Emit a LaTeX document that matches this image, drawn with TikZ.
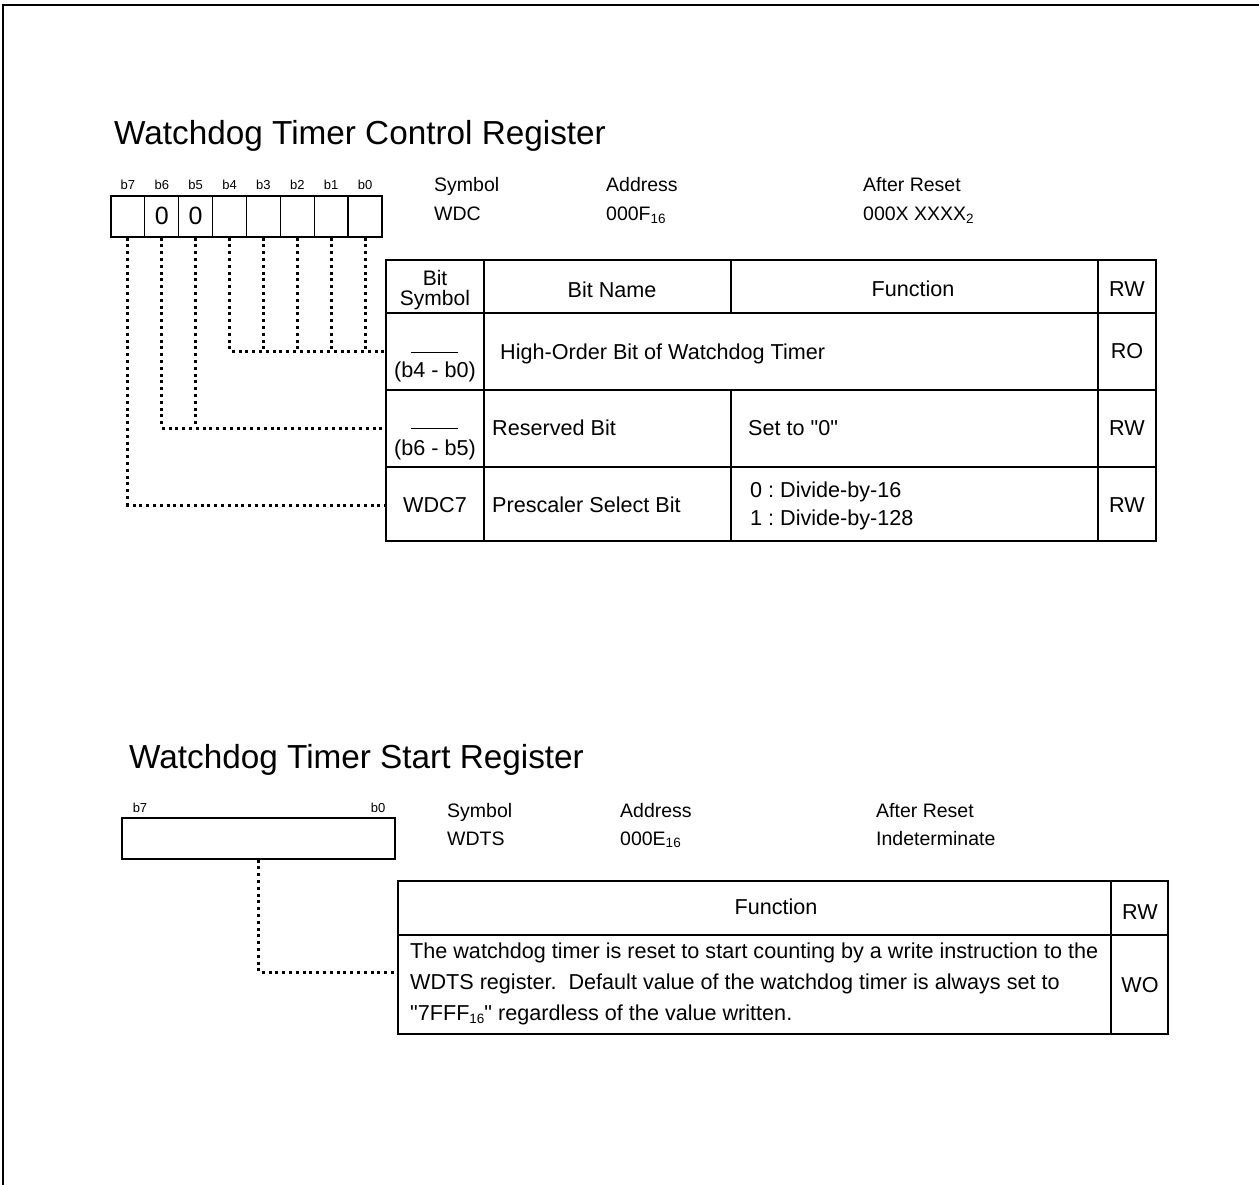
\documentclass[tikz,border=0pt]{standalone}
\usepackage{fontspec}
\setmainfont[Ligatures=TeXOff]{Liberation Sans}
\usetikzlibrary{positioning}

\newcommand\lowidx[1]{\raisebox{-0.25ex}{\fontsize{13.5}{13.5}\selectfont #1}}
\frenchspacing

\begin{document}
\begin{tikzpicture}[x=1pt, y=-1pt,
  bitcell/.style={draw, line width=1.3pt, minimum width=33.875pt, minimum height=41pt, inner sep=0pt},
  bitval/.style={anchor=base, inner sep=0pt, font=\fontsize{25}{25}\selectfont},
  bitlbl/.style={anchor=base, inner sep=0pt, font=\fontsize{13}{13}\selectfont},
  regtitle/.style={anchor=base west, inner sep=0pt, font=\fontsize{33.3}{34}\selectfont},
  info/.style={anchor=base west, inner sep=0pt, font=\fontsize{19.5}{20}\selectfont},
  txt/.style={anchor=base, inner sep=0pt, font=\fontsize{21.6}{22}\selectfont},
  cellline/.style={line width=1.3pt},
  outline/.style={line width=2pt},
  pageframe/.style={line width=2pt},
  tieline/.style={line width=3pt, dash pattern=on 3pt off 3.8pt}
]
\useasboundingbox (0,0) rectangle (1259,1185);
\draw[pageframe] (2.5,1185) -- (2.5,5.5) -- (1259,5.5);

% control register
\node[regtitle] (ttl1) at (114,145) {Watchdog Timer Control Register};
\foreach \b/\v [count=\k from 0] in {7/{},6/0,5/0,4/{},3/{},2/{},1/{},0/{}} {
  \node[bitcell] (c\b) at ({127.9+33.875*\k},216.5) {};
  \node[bitlbl] (l\b) at ({127.9+33.875*\k},190) {b\b};
  \node[bitval] (v\b) at ({127.9+33.875*\k},225) {\v};
}
\node[info] (sym1) at (434,192) {Symbol};
\node[info] (sym1v) at (434,221) {WDC};
\node[info] (adr1) at (606,192) {Address};
\node[info] (adr1v) at (606,221) {000F\lowidx{16}};
\node[info] (rst1) at (863,192) {After Reset};
\node[info] (rst1v) at (863,221) {000X XXXX\lowidx{2}};

\draw[outline] (386,260) rectangle (1156,541);
\draw[cellline] (386,313) -- (1156,313) (386,390) -- (1156,390) (386,467) -- (1156,467);
\draw[cellline] (484,260) -- (484,541) (1098,260) -- (1098,541)
  (731,260) -- (731,313) (731,390) -- (731,541);
\draw[line width=1pt] (411,352) -- (458,352) (411,428.5) -- (458,428.5);

\node[txt, anchor=center, align=center, font=\fontsize{21}{19.5}\selectfont] (hsym) at (435,290) {Bit\\Symbol};
\node[txt] (hname) at (612,297.5) {Bit Name};
\node[txt] (hfunc) at (913,297) {Function};
\node[txt] (hrw) at (1127,297) {RW};

\node[txt] (s1) at (435,377.5) {(b4 - b0)};
\node[txt, anchor=base west] (n1) at (500,359) {High-Order Bit of Watchdog Timer};
\node[txt] (rw1) at (1127,358) {RO};

\node[txt] (s2) at (435,455) {(b6 - b5)};
\node[txt, anchor=base west] (n2) at (492,435.5) {Reserved Bit};
\node[txt, anchor=base west] (f2) at (748,435.5) {Set to "0"};
\node[txt] (rw2) at (1127,435.5) {RW};

\node[txt] (s3) at (435,512.5) {WDC7};
\node[txt, anchor=base west] (n3) at (492,512.5) {Prescaler Select Bit};
\node[txt, anchor=west, align=left, font=\fontsize{21.6}{28}\selectfont] (f3) at (750,506)
  {0 : Divide-by-16\\1 : Divide-by-128};
\node[txt] (rw3) at (1127,512.5) {RW};

\coordinate (r1) at (386,351);
\coordinate (r2) at (386,428);
\coordinate (r3) at (386,505);
\foreach \b in {3,...,0} \draw[tieline] (c\b.south) -- (c\b.south |- r1);
\draw[tieline] (c4.south) |- (r1);
\draw[tieline] (c5.south) -- (c5.south |- r2);
\draw[tieline] (c6.south) |- (r2);
\draw[tieline] (c7.south) |- (r3);

% start register
\node[regtitle] (ttl2) at (129,768) {Watchdog Timer Start Register};
\node[bitcell, minimum width=273pt] (wdts) at (258.5,838.5) {};
\node[bitlbl] (w7) at (140,812) {b7};
\node[bitlbl] (w0) at (378,812) {b0};
\node[info] (sym2) at (447,817) {Symbol};
\node[info] (sym2v) at (447,845) {WDTS};
\node[info] (adr2) at (620,817) {Address};
\node[info] (adr2v) at (620,845) {000E\lowidx{16}};
\node[info] (rst2) at (876,817) {After Reset};
\node[info] (rst2v) at (876,845) {Indeterminate};

\draw[outline] (398,881) rectangle (1168,1034);
\draw[cellline] (398,935) -- (1168,935) (1111,881) -- (1111,1034);
\node[txt] (hfunc2) at (776,914.5) {Function};
\node[txt] (hrw2) at (1140,919.5) {RW};
\node[txt, anchor=west, align=left, font=\fontsize{21.6}{31}\selectfont] (desc) at (410,984)
  {The watchdog timer is reset to start counting by a write instruction to the\\
   WDTS register.\ \ Default value of the watchdog timer is always set to\\
   "7FFF\lowidx{16}" regardless of the value written.};
\node[txt] (wo) at (1140,992) {WO};

\coordinate (r4) at (398,972);
\draw[tieline] (wdts.south) |- (r4);
\end{tikzpicture}
\end{document}
